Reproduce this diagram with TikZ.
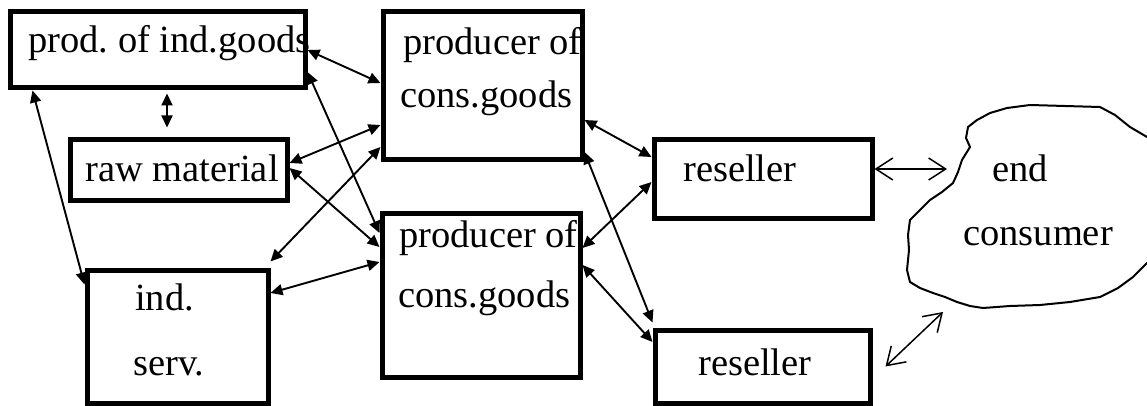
\documentclass[tikz,border=0pt]{standalone}
\usepackage{fontspec}
\setmainfont{Liberation Serif}
\usetikzlibrary{arrows.meta}
\begin{document}
\frenchspacing
\begin{tikzpicture}[x=1pt,y=-1pt,
  box/.style={draw, line width=5pt, inner sep=0pt},
  lbl/.style={anchor=base west, inner sep=0pt, font=\fontsize{38.5}{44}\selectfont},
  dbl/.style={{Triangle[length=12pt,width=11pt]}-{Triangle[length=12pt,width=11pt]}, line width=1.9pt},
  opn/.style={{Straight Barb[length=17pt,width=22pt]}-{Straight Barb[length=17pt,width=22pt]}, line width=1.5pt},
  cloudline/.style={draw, line width=2pt, line join=round}]
\useasboundingbox (0,0) rectangle (1147,406);
% boxes
\node[box, minimum width=295pt, minimum height=76pt] (A) at (157.5,50) {};
\node[box, minimum width=217pt, minimum height=60pt] (B) at (178.5,170) {};
\node[box, minimum width=181pt, minimum height=133pt] (C) at (177.5,336.5) {};
\node[box, minimum width=199pt, minimum height=148pt] (P1) at (482.5,86) {};
\node[box, minimum width=198pt, minimum height=164pt] (P2) at (481,295) {};
\node[box, minimum width=218pt, minimum height=78pt] (R1) at (763,179) {};
\node[box, minimum width=215pt, minimum height=73pt] (R2) at (762.5,366.5) {};
% cloud
\begin{scope}
\clip (0,0) rectangle (1147,406);
\draw[cloudline] (1030,105) -- (1100,107) -- (1115,115) -- (1130,127) -- (1147,137) -- (1165,145)
  -- (1165,258) -- (1147,263) -- (1133,277) -- (1118,288) -- (1100,297) -- (1070,302) -- (1040,305)
  -- (1010,306) -- (983,308) -- (970,306) -- (957,302) -- (945,297) -- (933,293) -- (920,288)
  -- (910,282) -- (907,270) -- (909,250) -- (908,235) -- (910,220) -- (920,210) -- (930,200)
  -- (942,192) -- (953,183) -- (958,172) -- (962,160) -- (970,147) -- (966,138) -- (968,127)
  -- (977,120) -- (990,113) -- (1007,108) -- cycle;
\end{scope}
\coordinate (cl1) at (947,169);
\coordinate (cl2) at (943,312);
% labels
\node[lbl] (tA) at (28,53) {prod. of ind.goods};
\node[lbl] (tB) at (85,182) {raw material};
\node[lbl] (tC1) at (135,310) {ind.};
\node[lbl] (tC2) at (133,375) {serv.};
\node[lbl] (tP1a) at (403,55) {producer of};
\node[lbl] (tP1b) at (400,108) {cons.goods};
\node[lbl] (tP2a) at (399,247) {producer of};
\node[lbl] (tP2b) at (398,307) {cons.goods};
\node[lbl] (tR1) at (683,182) {reseller};
\node[lbl] (tR2) at (698,375) {reseller};
\node[lbl] (tE1) at (992,182) {end};
\node[lbl] (tE2) at (963,245) {consumer};
% connectors
\draw[dbl] (A.east) -- ([yshift=3pt]P1.west);
\draw[dbl] ([yshift=-22pt]A.east) -- ([yshift=62pt]P2.west);
\draw[dbl] ([yshift=-3pt,xshift=9.5pt]A.south) -- ([yshift=10pt,xshift=-11.5pt]B.north);
\draw[dbl] ([xshift=25pt]A.south west) -- ([yshift=-17pt]C.north west);
\draw[dbl] ([yshift=7pt]B.east) -- ([yshift=-39pt]P1.west);
\draw[dbl] ([yshift=2pt]B.east) -- ([yshift=48pt]P2.west);
\draw[dbl] ([yshift=6pt]C.north east) -- ([yshift=-61pt]P1.west);
\draw[dbl] ([yshift=43.5pt]C.east) -- ([yshift=33pt]P2.west);
\draw[dbl] ([yshift=-34pt]P1.east) -- ([yshift=22pt]R1.west);
\draw[dbl] ([yshift=-66pt]P1.east) -- ([yshift=5pt]R2.north west);
\draw[dbl] ([yshift=-3pt]R1.west) -- ([yshift=47pt]P2.east);
\draw[dbl] ([yshift=30pt]P2.east) -- ([yshift=24.5pt]R2.west);
\draw[opn] ([yshift=10pt]R1.east) -- (cl1);
\draw[opn] ([xshift=13pt]R2.east) -- (cl2);
\end{tikzpicture}
\end{document}
